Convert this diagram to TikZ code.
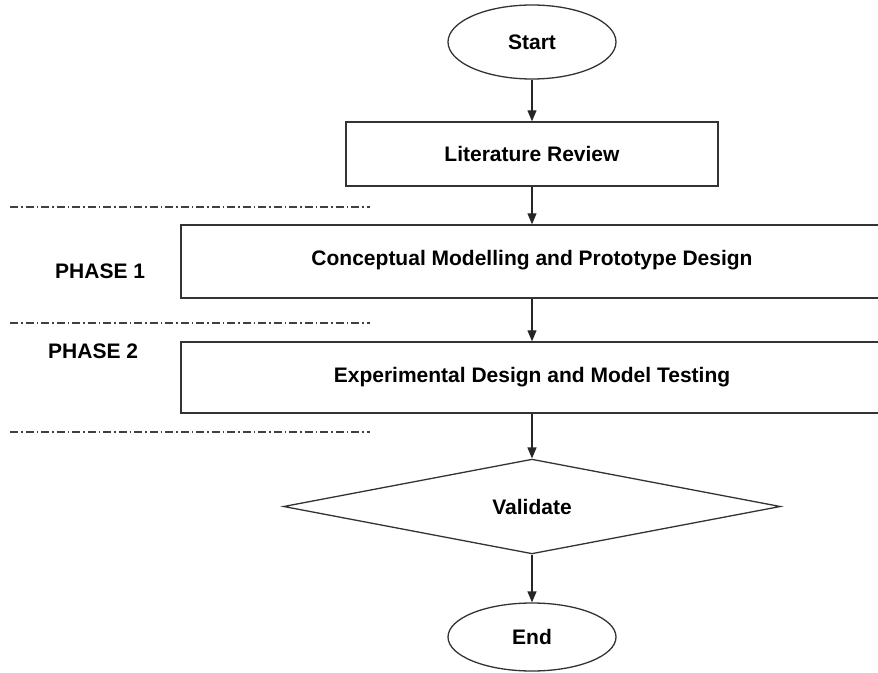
\documentclass[tikz,border=0pt]{standalone}
\usepackage{fontspec}
\setmainfont{Liberation Sans}
\usetikzlibrary{shapes.geometric,arrows.meta}
\begin{document}
\begin{tikzpicture}[x=1pt,y=-1pt,
  every node/.style={font=\fontsize{21}{25}\selectfont\bfseries},
  term/.style={draw=black!80,line width=1.3pt,ellipse,minimum width=168pt,inner sep=0pt},
  procbox/.style={draw=black!80,line width=1.4pt,rectangle,inner sep=0pt},
  decide/.style={draw=black!80,line width=1.3pt,diamond,minimum width=497pt,minimum height=93pt,inner sep=0pt},
  flow/.style={draw=black!85,line width=1.3pt,-{Triangle[length=11pt,width=9pt]}},
  phaseline/.style={draw=black!75,line width=1.6pt,dash pattern=on 8pt off 3pt on 1.5pt off 3pt},
  phaselabel/.style={inner sep=0pt}
]
\useasboundingbox (0,0) rectangle (878,672);
\node[term,minimum height=74pt] (start) at (532,42) {Start};
\node[procbox,minimum width=372pt,minimum height=64pt] (lit) at (532,154) {Literature Review};
\node[procbox,minimum width=702pt,minimum height=73pt] (concept) at (532,261.5) {\raisebox{7pt}{Conceptual Modelling and Prototype Design}};
\node[procbox,minimum width=702pt,minimum height=71pt] (exper) at (532,377.5) {\raisebox{-3pt}{Experimental Design and Model Testing}};
\node[decide] (valid) at (532,506.5) {Validate};
\node[term,minimum height=68pt] (end) at (532,637) {End};

\node[phaselabel,anchor=west] (p1) at (55,271) {PHASE 1};
\node[phaselabel,anchor=west] (p2) at (48,351) {PHASE 2};

\coordinate (l1a) at (10,207); \coordinate (l1b) at (370,207);
\coordinate (l2a) at (10,323); \coordinate (l2b) at (370,323);
\coordinate (l3a) at (10,432); \coordinate (l3b) at (370,432);
\draw[phaseline] (l1a) -- (l1b);
\draw[phaseline] (l2a) -- (l2b);
\draw[phaseline] (l3a) -- (l3b);

\draw[flow] (start.south) -- (lit.north);
\draw[flow] (lit.south) -- (concept.north);
\draw[flow] (concept.south) -- (exper.north);
\draw[flow] (exper.south) -- (valid.north);
\draw[flow] (valid.south) -- (end.north);
\end{tikzpicture}
\end{document}
